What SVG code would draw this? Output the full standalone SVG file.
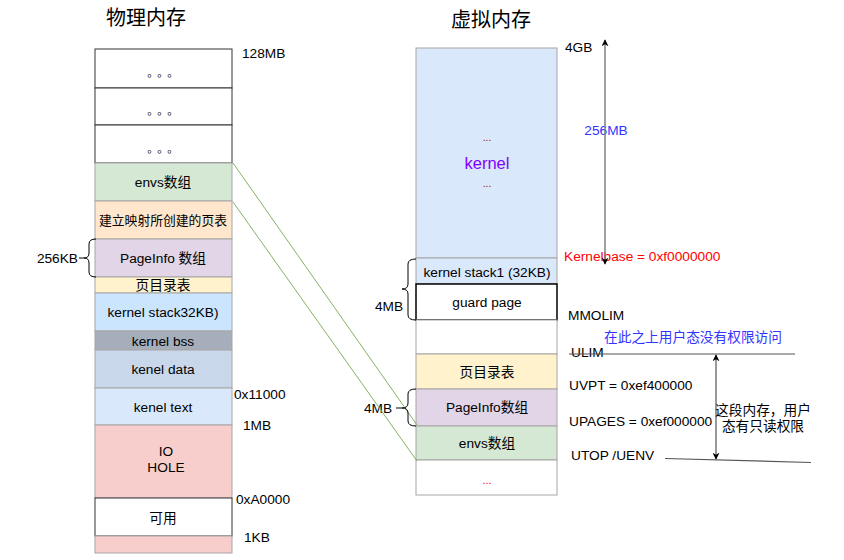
<svg xmlns="http://www.w3.org/2000/svg" width="844" height="560" viewBox="0 0 844 560">
<defs>
<style>
text{font-family:"Liberation Sans","Noto Sans CJK SC",sans-serif;font-size:13.7px;fill:#000}
.c{text-anchor:middle}
.box{stroke:#a6a6a6;stroke-width:1}
.dk{stroke:#333;stroke-width:1}
.title{font-size:20px}
.dots{font-family:"Noto Sans CJK SC",sans-serif;font-size:11px;letter-spacing:4.5px}
.conn{fill:none}
</style>
<marker id="ah" viewBox="0 0 10 10" refX="9" refY="5" markerWidth="7" markerHeight="7" orient="auto-start-reverse" markerUnits="userSpaceOnUse">
<path d="M0,0 L10,5 L0,10 L3,5 z" fill="#000"/>
</marker>
</defs>
<rect width="844" height="560" fill="#fff"/>

<text x="146" y="25" class="c title">物理内存</text>
<text x="491" y="27" class="c title">虚拟内存</text>

<!-- physical memory -->
<g id="p-dots1"><rect x="95" y="49" width="137" height="39" fill="#fff" class="dk"/><text x="165" y="77" class="c dots">。。。</text></g>
<g id="p-dots2"><rect x="95" y="88" width="137" height="37" fill="#fff" class="dk"/><text x="165" y="115" class="c dots">。。。</text></g>
<g id="p-dots3"><rect x="95" y="125" width="137" height="38" fill="#fff" class="dk"/><text x="165" y="153" class="c dots">。。。</text></g>
<g id="p-envs"><rect x="95" y="163" width="137" height="38" fill="#d5e8d4" class="box"/><text x="163" y="187" class="c">envs数组</text></g>
<g id="p-pt"><rect x="95" y="201" width="137" height="38" fill="#ffe6cc" class="box"/><text x="163" y="225" class="c" style="font-size:12.8px">建立映射所创建的页表</text></g>
<g id="p-pageinfo"><rect x="95" y="239" width="137" height="38" fill="#e1d5e7" class="box"/><text x="163" y="263" class="c">PageInfo 数组</text></g>
<g id="p-pgdir"><rect x="95" y="277" width="137" height="16" fill="#fff2cc" class="box"/><text x="163" y="290" class="c">页目录表</text></g>
<g id="p-stack"><rect x="95" y="293" width="137" height="38" fill="#cce5ff" class="box"/><text x="163" y="317" class="c">kernel stack32KB)</text></g>
<g id="p-bss"><rect x="95" y="331" width="137" height="19" fill="#a5aeba" class="box"/><text x="163" y="346" class="c">kernel bss</text></g>
<g id="p-data"><rect x="95" y="350" width="137" height="38" fill="#c9d7ea" class="box"/><text x="163" y="374" class="c">kenel data</text></g>
<g id="p-text"><rect x="95" y="388" width="137" height="37" fill="#dae8fc" class="box"/><text x="163" y="412" class="c">kenel text</text></g>
<g id="p-io"><rect x="95" y="425" width="137" height="73" fill="#f8cecc" class="box"/><text x="166" y="456" class="c">IO</text><text x="166" y="472" class="c">HOLE</text></g>
<g id="p-free"><rect x="95" y="498" width="137" height="38" fill="#fff" class="dk"/><text x="163" y="523" class="c">可用</text></g>
<g id="p-low"><rect x="95" y="536" width="137" height="17" fill="#f8cecc" class="box"/></g>

<g id="p-labels">
<text x="242" y="58">128MB</text>
<text x="234" y="399">0x11000</text>
<text x="243" y="430">1MB</text>
<text x="236" y="504">0xA0000</text>
<text x="244" y="542">1KB</text>
<text x="78" y="263" text-anchor="end">256KB</text>
</g>

<!-- virtual memory -->
<g id="v-kernel"><rect x="416" y="48" width="141" height="210" fill="#dae8fc" class="box"/>
<text x="487" y="141" class="c" style="fill:#990000;font-size:10px">...</text>
<text x="487" y="169" class="c" style="fill:#7f00ff;font-size:16.5px">kernel</text>
<text x="487" y="187" class="c" style="fill:#990000;font-size:10px">...</text></g>
<g id="v-stack"><rect x="416" y="258" width="141" height="26" fill="#dae8fc" class="box"/><text x="487" y="277" class="c">kernel stack1 (32KB)</text></g>
<g id="v-guard"><rect x="416" y="284" width="141" height="36" fill="#fff" stroke="#000" stroke-width="1.5"/><text x="487" y="307" class="c">guard page</text></g>
<g id="v-blank"><rect x="416" y="320" width="141" height="34" fill="#fff" class="box"/></g>
<g id="v-pgdir"><rect x="416" y="354" width="141" height="35" fill="#fff2cc" class="box"/><text x="487" y="377" class="c">页目录表</text></g>
<g id="v-pageinfo"><rect x="416" y="389" width="141" height="37" fill="#e1d5e7" class="box"/><text x="487" y="412" class="c">PageInfo数组</text></g>
<g id="v-envs"><rect x="416" y="426" width="141" height="34" fill="#d5e8d4" class="box"/><text x="487" y="448" class="c">envs数组</text></g>
<g id="v-rest"><rect x="416" y="460" width="141" height="35" fill="#fff" class="box"/><text x="487" y="484" class="c" style="fill:#ff0000;font-size:11px">...</text></g>

<g id="v-labels">
<text x="565" y="52">4GB</text>
<text x="606" y="135" class="c" style="fill:#3333ff">256MB</text>
<text x="564" y="261" style="fill:#ff0000">Kernelbase = 0xf0000000</text>
<text x="568" y="320">MMOLIM</text>
<text x="604" y="342" style="fill:#3333ff">在此之上用户态没有权限访问</text>
<text x="571" y="357">ULIM</text>
<text x="569" y="390">UVPT = 0xef400000</text>
<text x="569" y="426">UPAGES = 0xef000000</text>
<text x="571" y="460">UTOP /UENV</text>
<text x="763" y="415" class="c">这段内存，用户</text>
<text x="763" y="431" class="c">态有只读权限</text>
<text x="389" y="311" class="c">4MB</text>
<text x="378" y="413" class="c">4MB</text>
</g>

<g id="connectors" class="conn">
<line x1="233" y1="163" x2="417" y2="425" stroke="#82b366" stroke-width="1"/>
<line x1="233" y1="202" x2="417" y2="461" stroke="#82b366" stroke-width="1"/>
<line x1="605" y1="264" x2="605" y2="40" stroke="#808080" stroke-width="1.5" marker-start="url(#ah)" marker-end="url(#ah)"/>
<line x1="716" y1="459" x2="716" y2="355" stroke="#555" stroke-width="1.2" marker-start="url(#ah)" marker-end="url(#ah)"/>
<line x1="569" y1="354" x2="795" y2="354" stroke="#555" stroke-width="1.2"/>
<line x1="665" y1="458.5" x2="811" y2="462.5" stroke="#555" stroke-width="1.2"/>
<path d="M96 239 Q89 239 89 244 L89 253 Q89 258 84 258 Q89 258 89 263 L89 272 Q89 277 96 277 M79 258 L84 258" stroke="#000" stroke-width="1"/>
<path d="M416 259 Q408 259 408 264 L408 284 Q408 289 402 289 Q408 289 408 294 L408 315 Q408 320 416 320" stroke="#000" stroke-width="1"/>
<path d="M416 389 Q408 389 408 394 L408 403 Q408 408 402 408 Q408 408 408 413 L408 421 Q408 426 416 426 M396 408 L402 408" stroke="#000" stroke-width="1"/>
</g>
</svg>
